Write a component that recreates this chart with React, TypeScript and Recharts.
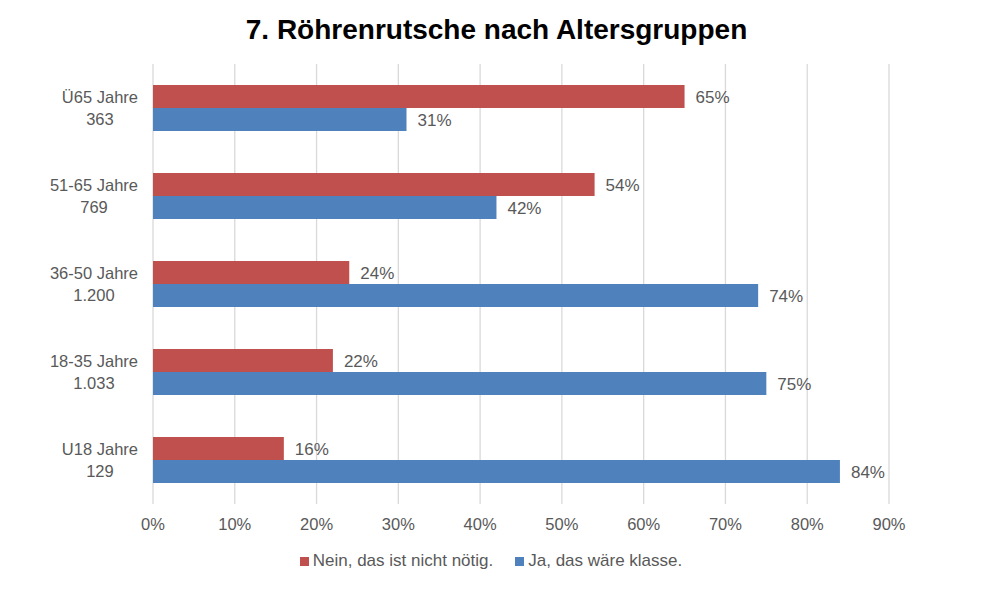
import React from 'react';
import {
  BarChart,
  Bar,
  XAxis,
  YAxis,
  CartesianGrid,
  Legend,
  LabelList,
} from 'recharts';

const groups = ['Ü65 Jahre', '51-65 Jahre', '36-50 Jahre', '18-35 Jahre', 'U18 Jahre'];
const counts = ['363', '769', '1.200', '1.033', '129'];
const nein = [65, 54, 24, 22, 16];
const ja = [31, 42, 74, 75, 84];
const xTicks = [0, 10, 20, 30, 40, 50, 60, 70, 80, 90];

const seriesNames = {
  nein: 'Nein, das ist nicht nötig.',
  ja: 'Ja, das wäre klasse.',
};

const RED = '#C0504D';
const BLUE = '#4F81BD';
const GREY_TEXT = '#595959';
const FONT = "'Liberation Sans', Arial, sans-serif";
const AXIS_SIZE = 16.5;

const data = groups.map((g, i) => ({
  name: g,
  count: counts[i],
  nein: nein[i],
  ja: ja[i],
}));

let ctx: CanvasRenderingContext2D | null = null;
const measure = (s: string) => {
  if (!ctx) ctx = document.createElement('canvas').getContext('2d');
  if (!ctx) return s.length * 8;
  ctx.font = `${AXIS_SIZE}px ${FONT}`;
  return ctx.measureText(s).width;
};

// two-line category label, second line centred under the first
const GroupTick = (props: any) => {
  const { x, y, payload, index } = props;
  const first = payload.value as string;
  const w = measure(first);
  return (
    <g>
      <text x={x} y={y - 11} textAnchor="end" dominantBaseline="central" fill={GREY_TEXT} fontSize={AXIS_SIZE} fontFamily={FONT}>
        {first}
      </text>
      <text x={x - w / 2} y={y + 11} textAnchor="middle" dominantBaseline="central" fill={GREY_TEXT} fontSize={AXIS_SIZE} fontFamily={FONT}>
        {counts[index]}
      </text>
    </g>
  );
};

const LegendContent = () => (
  <div style={{ display: 'flex', justifyContent: 'center', gap: 22, fontFamily: FONT, fontSize: 17, color: GREY_TEXT }}>
    {[
      { c: RED, t: seriesNames.nein },
      { c: BLUE, t: seriesNames.ja },
    ].map((it) => (
      <div key={it.t} style={{ display: 'flex', alignItems: 'center' }}>
        <span style={{ width: 9, height: 9, background: it.c, display: 'inline-block', marginRight: 4 }} />
        <span>{it.t}</span>
      </div>
    ))}
  </div>
);

export default function App() {
  return (
    <div style={{ position: 'absolute', left: 0, top: 0, width: 982, height: 600, background: '#fff' }}>
      <div
        style={{
          position: 'absolute',
          top: 14,
          left: 0,
          width: 993,
          textAlign: 'center',
          fontFamily: FONT,
          fontWeight: 'bold',
          fontSize: 28,
          lineHeight: '32px',
          color: '#000',
        }}
      >
        7. Röhrenrutsche nach Altersgruppen
      </div>
      <BarChart
        width={982}
        height={600}
        data={data}
        layout="vertical"
        barGap={0}
        margin={{ top: 64, right: 93, bottom: 66, left: 0 }}
      >
        <CartesianGrid horizontal={false} stroke="#D9D9D9" strokeWidth={1.3} />
        <XAxis
          type="number"
          domain={[0, 90]}
          ticks={xTicks}
          interval={0}
          tickFormatter={(v) => `${v}%`}
          axisLine={false}
          tickLine={false}
          tickSize={0}
          tickMargin={14}
          height={30}
          tick={{ fill: GREY_TEXT, fontSize: AXIS_SIZE, fontFamily: FONT }}
        />
        <YAxis
          type="category"
          dataKey="name"
          width={153}
          axisLine={false}
          tickLine={false}
          tickSize={0}
          tickMargin={15}
          tick={<GroupTick />}
        />
        <Legend
          layout="horizontal"
          verticalAlign="middle"
          align="center"
          content={<LegendContent />}
          wrapperStyle={{ top: 551, left: 0, width: 982 }}
        />
        <Bar dataKey="nein" name={seriesNames.nein} fill={RED} barSize={23} isAnimationActive={false}>
          <LabelList dataKey="nein" position="right" offset={11} formatter={(v: any) => `${v}%`} fill={GREY_TEXT} fontSize={17} fontFamily={FONT} />
        </Bar>
        <Bar dataKey="ja" name={seriesNames.ja} fill={BLUE} barSize={23} isAnimationActive={false}>
          <LabelList dataKey="ja" position="right" offset={11} formatter={(v: any) => `${v}%`} fill={GREY_TEXT} fontSize={17} fontFamily={FONT} />
        </Bar>
      </BarChart>
    </div>
  );
}
